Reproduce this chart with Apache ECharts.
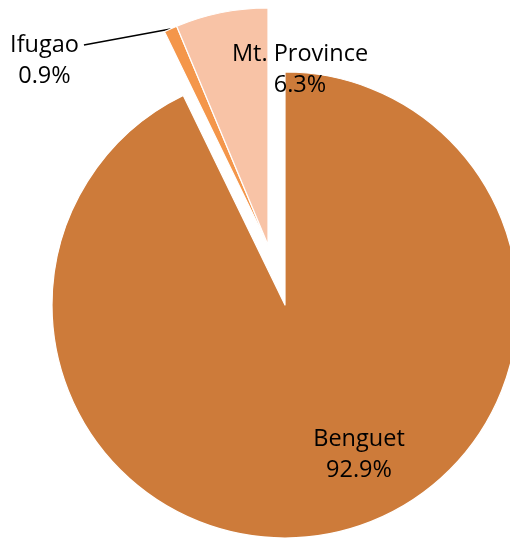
<!DOCTYPE html>
<html>
<head>
<meta charset="utf-8">
<script src="https://cdn.jsdelivr.net/npm/echarts@6/dist/echarts.min.js"></script>
<style>
html,body{margin:0;padding:0;background:#fff;}
#chart{width:510px;height:539px;}
</style>
</head>
<body>
<div id="chart"></div>
<script>
var categories = ['Benguet', 'Ifugao', 'Mt. Province'];
var values = [92.9, 0.9, 6.3];
var colors = ['#CD7B3A', '#F4964A', '#F8C3A6'];

var FONT = 'Open Sans';
var labelBase = {
  show: true,
  formatter: function (p) { return p.name + '\n' + p.value + '%'; },
  fontFamily: FONT,
  fontSize: 23.5,
  lineHeight: 31,
  color: '#000',
  align: 'center'
};

function buildData(visibleIdx) {
  return categories.map(function (name, i) {
    var vis = visibleIdx.indexOf(i) >= 0;
    var item = {
      name: name,
      value: values[i],
      itemStyle: vis ? { color: colors[i], borderColor: '#fff', borderWidth: 1.2 }
                     : { color: 'rgba(0,0,0,0)', borderWidth: 0 },
      label: vis ? {} : { show: false },
      labelLine: { show: false }
    };
    if (vis && name === 'Ifugao') {
      item.label = {
        position: 'outside',
        padding: [0, 5, 0, 0],
        formatter: function (p) { return ' \n' + p.name + '\n' + p.value + '%'; }
      };
      item.labelLine = { show: true, length: 20, length2: 0, minTurnAngle: 0, lineStyle: { color: '#000', width: 1.5 } };
    } else if (vis) {
      item.label = { position: 'inside' };
    }
    return item;
  });
}

var labelPos = {
  'Benguet': [359, 455],
  'Mt. Province': [300, 70],
  'Ifugao': [47, 45]
};

function layoutFn(params) {
  var pos = labelPos[categories[params.dataIndex]];
  return { x: pos[0], y: pos[1], align: 'center', verticalAlign: 'middle' };
}

var chart = echarts.init(document.getElementById('chart'));
chart.setOption({
  animation: false,
  backgroundColor: '#fff',
  series: [
    {
      type: 'pie',
      center: [285, 305],
      radius: 233,
      startAngle: 90,
      clockwise: true,
      silent: true,
      label: labelBase,
      labelLayout: layoutFn,
      data: buildData([0])
    },
    {
      type: 'pie',
      center: [268, 245],
      radius: 237,
      startAngle: 90,
      clockwise: true,
      silent: true,
      label: labelBase,
      labelLayout: layoutFn,
      data: buildData([1, 2])
    }
  ]
});
</script>
</body>
</html>
